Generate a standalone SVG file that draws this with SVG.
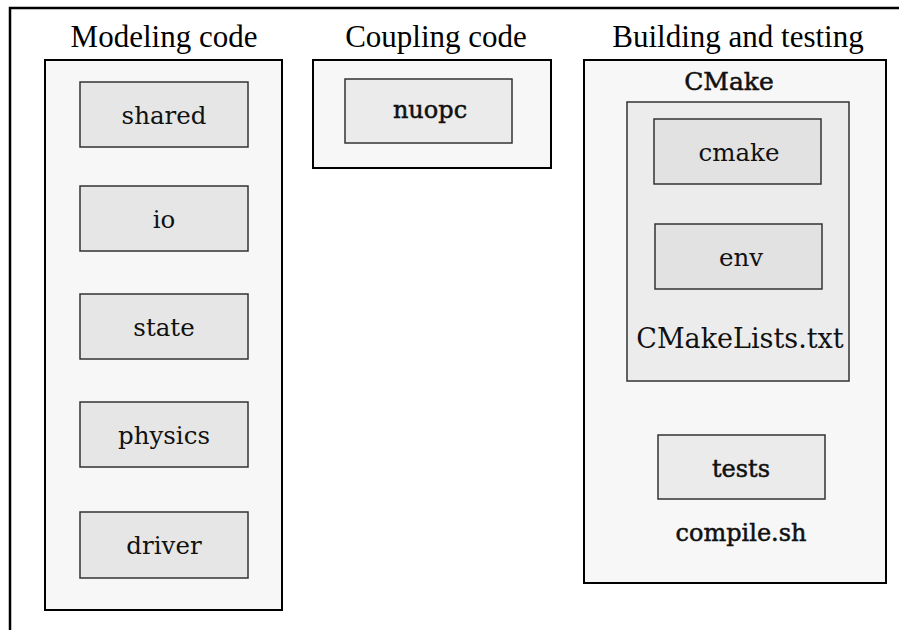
<svg xmlns="http://www.w3.org/2000/svg" width="899" height="630" viewBox="0 0 899 630">
<style>
.outer{fill:#f7f7f7;stroke:#000;stroke-width:2}
.inner{fill:#e6e6e6;stroke:#333;stroke-width:1.5}
.inner2{fill:#ebebeb;stroke:#333;stroke-width:1.5}
.mid{fill:#ececec;stroke:#333;stroke-width:1.5}
.deep{fill:#e2e2e2;stroke:#333;stroke-width:1.5}
</style>
<rect width="899" height="630" fill="#fff"/>
<path d="M10,640 V8 H910" fill="none" stroke="#000" stroke-width="2.5"/>
<g id="connectors"></g>

<g id="modeling">
<rect class="outer" x="45" y="60" width="237" height="550"/>
<text x="164" y="47" font-family="Liberation Serif, serif" font-size="31" text-anchor="middle" fill="#000">Modeling code</text>
</g>
<g id="shared"><rect class="inner" x="80" y="82" width="168" height="65"/><text x="164" y="124" font-family="DejaVu Serif, serif" font-size="24.5" text-anchor="middle" fill="#111">shared</text></g>
<g id="io"><rect class="inner" x="80" y="186" width="168" height="65"/><text x="164" y="228" font-family="DejaVu Serif, serif" font-size="24.5" text-anchor="middle" fill="#111">io</text></g>
<g id="state"><rect class="inner" x="80" y="294" width="168" height="65"/><text x="164" y="336" font-family="DejaVu Serif, serif" font-size="24.5" text-anchor="middle" fill="#111">state</text></g>
<g id="physics"><rect class="inner" x="80" y="402" width="168" height="65"/><text x="164" y="444" font-family="DejaVu Serif, serif" font-size="24.5" text-anchor="middle" fill="#111">physics</text></g>
<g id="driver"><rect class="inner" x="80" y="512" width="168" height="66"/><text x="164" y="554" font-family="DejaVu Serif, serif" font-size="24.5" text-anchor="middle" fill="#111">driver</text></g>

<g id="coupling">
<rect class="outer" x="313" y="60" width="238" height="108"/>
<text x="436" y="47" font-family="Liberation Serif, serif" font-size="31" text-anchor="middle" fill="#000">Coupling code</text>
</g>
<g id="nuopc"><rect class="inner2" x="345" y="79" width="167" height="64"/><text x="430" y="118" font-family="DejaVu Serif, serif" font-size="24" text-anchor="middle" fill="#111" stroke="#111" stroke-width="0.5">nuopc</text></g>

<g id="building">
<rect class="outer" x="584" y="60" width="302" height="523"/>
<text x="738" y="47" font-family="Liberation Serif, serif" font-size="31" text-anchor="middle" fill="#000">Building and testing</text>
</g>
<g id="cmake-group">
<rect class="mid" x="627" y="102" width="222" height="279"/>
<text x="729" y="90" font-family="DejaVu Serif, serif" font-size="25" text-anchor="middle" fill="#111" stroke="#111" stroke-width="0.5">CMake</text>
<text x="740" y="348" font-family="DejaVu Serif, serif" font-size="27" text-anchor="middle" fill="#111">CMakeLists.txt</text>
</g>
<g id="cmake"><rect class="deep" x="654" y="119" width="167" height="65"/><text x="739" y="161" font-family="DejaVu Serif, serif" font-size="24.5" text-anchor="middle" fill="#111">cmake</text></g>
<g id="env"><rect class="deep" x="655" y="224" width="167" height="65"/><text x="741" y="266" font-family="DejaVu Serif, serif" font-size="24.5" text-anchor="middle" fill="#111">env</text></g>
<g id="tests"><rect class="inner2" x="658" y="435" width="167" height="64"/><text x="741" y="477" font-family="DejaVu Serif, serif" font-size="24" text-anchor="middle" fill="#111" stroke="#111" stroke-width="0.5">tests</text></g>
<g id="compile"><text x="741" y="541" font-family="DejaVu Serif, serif" font-size="24" text-anchor="middle" fill="#111" stroke="#111" stroke-width="0.5">compile.sh</text></g>
</svg>
